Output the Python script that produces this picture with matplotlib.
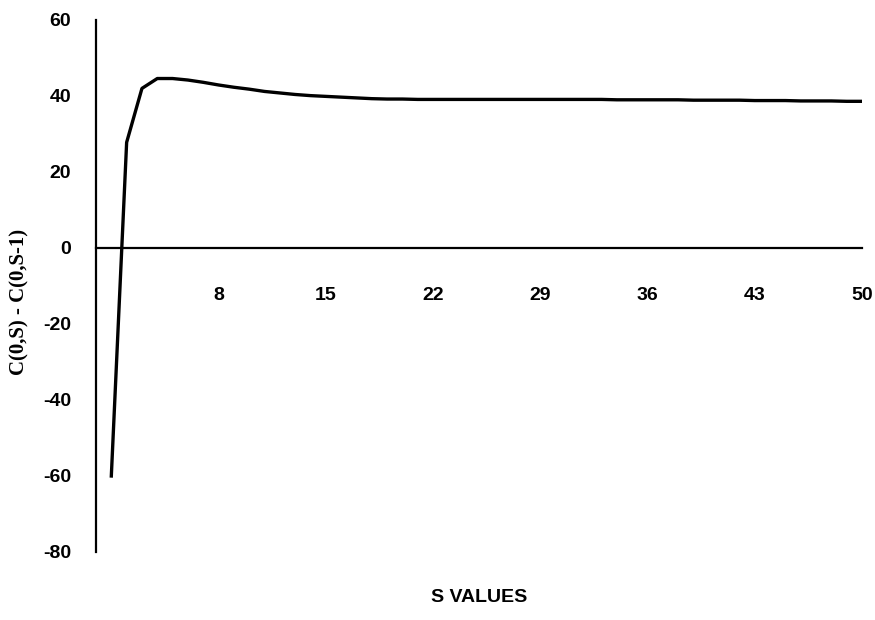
import matplotlib.pyplot as plt

plt.rcParams["axes.unicode_minus"] = False

# S values and C(0,S) - C(0,S-1)
s_values = list(range(1, 51))
diff = [-60.0, 27.8, 42.0, 44.6, 44.6, 44.2, 43.6, 42.9, 42.3, 41.8,
        41.2, 40.8, 40.4, 40.1, 39.9, 39.7, 39.5, 39.3, 39.2, 39.2,
        39.1, 39.1, 39.1, 39.1, 39.1, 39.1, 39.1, 39.1, 39.1, 39.1,
        39.1, 39.1, 39.1, 39.0, 39.0, 39.0, 39.0, 39.0, 38.9, 38.9,
        38.9, 38.9, 38.8, 38.8, 38.8, 38.7, 38.7, 38.7, 38.6, 38.6]
x_ticks = [8, 15, 22, 29, 36, 43, 50]
y_ticks = [-80, -60, -40, -20, 0, 20, 40, 60]

fig = plt.figure(figsize=(8.75, 6.2), dpi=100)
ax = fig.add_axes([96 / 875, 68 / 620, 766 / 875, 532 / 620])

ax.plot(s_values, diff, color="black", linewidth=2.4)

ax.set_xlim(0, 50)
ax.set_ylim(-80, 60)
ax.spines["top"].set_visible(False)
ax.spines["right"].set_visible(False)
ax.spines["bottom"].set_position(("data", 0))
for sp in ("left", "bottom"):
    ax.spines[sp].set_linewidth(1.6)

ax.set_xticks(x_ticks)
ax.set_yticks(y_ticks)
ax.tick_params(axis="x", length=0, pad=28)
ax.tick_params(axis="y", length=0, pad=18)
for lab in ax.get_xticklabels() + ax.get_yticklabels():
    lab.set_fontfamily("Liberation Sans")
    lab.set_fontweight("bold")
    lab.set_fontsize(14)

fig.text(479 / 875, 1 - 598 / 620, "S VALUES", ha="center", va="center",
         fontfamily="Liberation Sans", fontweight="bold", fontsize=14)
fig.text(19 / 875, 1 - 302 / 620, "C(0,S) - C(0,S-1)", ha="center", va="center",
         rotation=90, fontfamily="Liberation Serif", fontweight="bold", fontsize=15)

fig.savefig("out.png", dpi=100)
